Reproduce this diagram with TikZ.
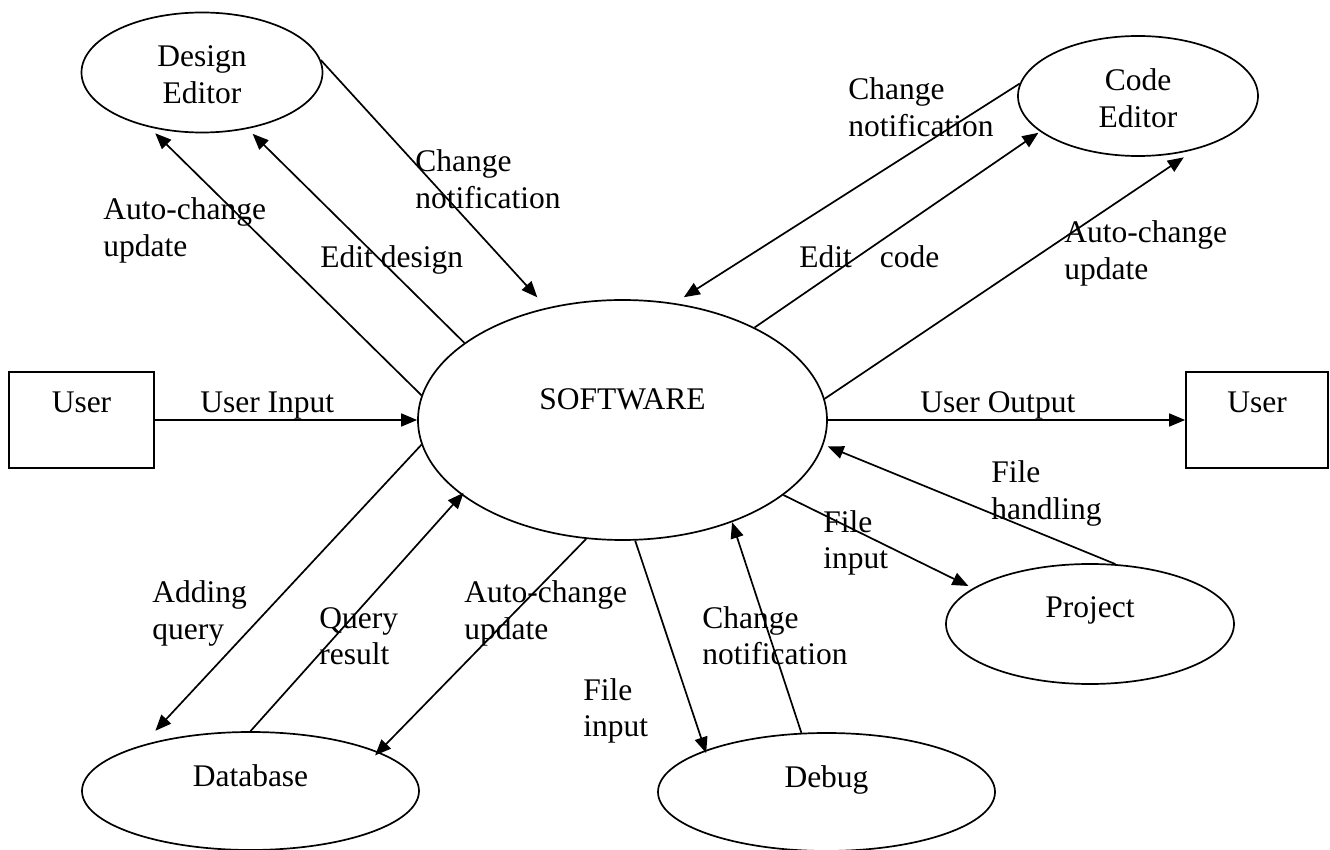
\documentclass[tikz,border=0pt]{standalone}
\usepackage{fontspec}
\setmainfont{Liberation Serif}
\usetikzlibrary{shapes.geometric,arrows.meta}
\newcommand\mytl[1]{\begin{tabular}[t]{@{}l@{}}#1\end{tabular}}
\newcommand\mytc[2]{\raisebox{#1}[0pt][0pt]{\begin{tabular}[t]{@{}c@{}}#2\end{tabular}}}
\newcommand\myup[2]{\raisebox{#1}[0pt][0pt]{#2}}
\begin{document}
\begin{tikzpicture}[x=0.5pt,y=-0.5pt,
  every node/.style={font=\fontsize{15.75pt}{18.25pt}\selectfont},
  ell/.style={draw, ellipse, line width=0.85pt, inner sep=0pt},
  box/.style={draw, rectangle, line width=0.85pt, inner sep=0pt},
  flow/.style={line width=0.85pt, -{Triangle[length=8pt,width=6.5pt]}},
  lab/.style={anchor=base west, inner sep=0pt}]
\fill[white] (0,0) rectangle (1330,850);
\useasboundingbox (0,0) rectangle (1330,850);

% nodes
\node[ell, minimum width=204.5pt, minimum height=120pt] (sw) at (622.5,420) {\myup{5pt}{SOFTWARE}};
\node[ell, minimum width=120.5pt, minimum height=60pt] (de) at (202,72.5) {\mytc{2.75pt}{Design\\Editor}};
\node[ell, minimum width=120pt, minimum height=60pt] (ce) at (1138,96) {\mytc{2.5pt}{Code\\Editor}};
\node[ell, minimum width=144pt, minimum height=60pt] (pr) at (1090,624) {\myup{3pt}{Project}};
\node[ell, minimum width=168.5pt, minimum height=59pt] (db) at (826.5,792) {\myup{2.5pt}{Debug}};
\node[ell, minimum width=168.5pt, minimum height=59pt] (da) at (250.5,791) {\myup{2pt}{Database}};
\node[box, minimum width=72.5pt, minimum height=48pt] (ul) at (81.5,420) {\myup{3.5pt}{User}};
\node[box, minimum width=71pt, minimum height=48pt] (ur) at (1257,420) {\myup{3.5pt}{User}};

% connectors
\draw[flow, shorten >=4.3pt] (sw.173.5) -- (de.226.7);
\draw[flow, shorten >=3.5pt] (sw.154.8) -- (de.309.5);
\draw[flow, shorten >=7pt] (de.6) -- (sw.124.7);
\draw[flow, shorten >=5.5pt] (ce.174.7) -- (sw.66);
\draw[flow, shorten >=1pt] (sw.35.3) -- (ce.200.4);
\draw[flow, shorten >=7pt] (sw.6.5) -- (ce.317.7);
\draw[flow] (ul.east) -- (sw.west);
\draw[flow] (sw.east) -- (ur.west);
\draw[flow, shorten >=2.25pt] (pr.67.9) -- (sw.353);
\draw[flow, shorten >=2.5pt] (sw.-25.2) -- (pr.163.5);
\draw[flow, shorten >=-1.5pt] (sw.-84.5) -- (db.161.3);
\draw[flow] (db.113.2) -- (sw.-43.5);
\draw[flow, shorten >=9.7pt] (sw.187.1) -- (da.157.7);
\draw[flow, shorten >=-1.5pt] (da.north) -- (sw.205.2);
\draw[flow, shorten >=-2.5pt] (sw.253.3) -- (da.17.8);

% labels
\node[lab] (l1) at (103,220) {\mytl{Auto-change\\update}};
\node[lab] (l2) at (320,268) {Edit design};
\node[lab] (l3) at (415,172) {\mytl{Change\\notification}};
\node[lab] (l4) at (848,100) {\mytl{Change\\notification}};
\node[lab] (l5) at (799,268) {Edit\hspace{14pt}code};
\node[lab] (l6) at (1064,243) {\mytl{Auto-change\\update}};
\node[lab] (l7) at (200,413) {User Input};
\node[lab] (l8) at (920,413) {User Output};
\node[lab] (l9) at (991,483) {\mytl{File\\handling}};
\node[lab] (l10) at (823,532) {\mytl{File\\input}};
\node[lab] (l11) at (152,603) {\mytl{Adding\\query}};
\node[lab] (l12) at (319,628) {\mytl{Query\\result}};
\node[lab] (l13) at (464,603) {\mytl{Auto-change\\update}};
\node[lab] (l14) at (702,628) {\mytl{Change\\notification}};
\node[lab] (l15) at (583,700) {\mytl{File\\input}};
\end{tikzpicture}
\end{document}
